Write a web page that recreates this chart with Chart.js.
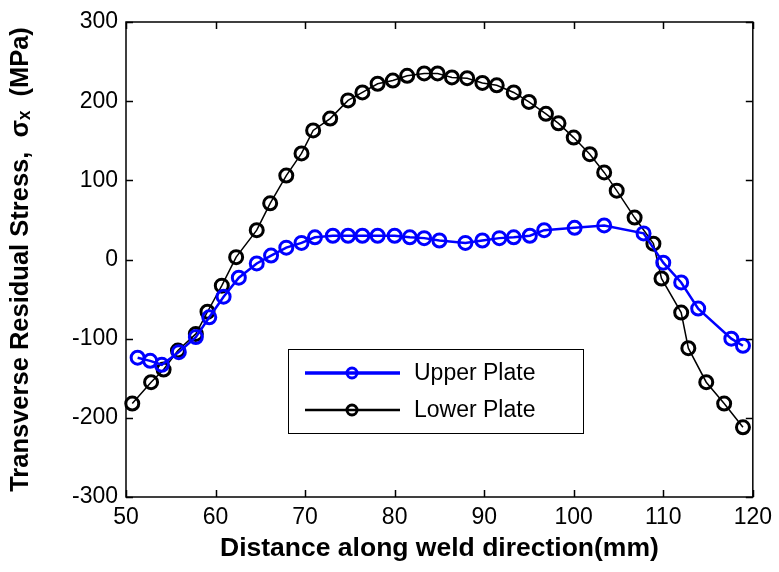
<!DOCTYPE html>
<html>
<head>
<meta charset="utf-8">
<script src="https://cdn.jsdelivr.net/npm/chart.js@4.4.1/dist/chart.umd.min.js"></script>
<style>
  html, body { margin: 0; padding: 0; background: #ffffff; }
  #wrap { width: 779px; height: 572px; }
</style>
</head>
<body>
<div id="wrap"><canvas id="c" width="779" height="572"></canvas></div>
<script>
// Transverse residual stress along the weld line, upper vs lower plate
const upperX = [51.3, 52.7, 54.0, 55.9, 57.8, 59.3, 60.9, 62.6, 64.6, 66.2, 67.9, 69.6, 71.1, 73.1, 74.8,
                76.4, 78.1, 80.0, 81.7, 83.3, 85.0, 87.9, 89.8, 91.7, 93.3, 95.1, 96.7, 100.1, 103.4,
                107.8, 110.0, 112.0, 113.9, 117.6, 118.9];
const upperY = [-124, -128, -133, -117, -98, -73, -47, -23, -5, 5, 15, 21, 28, 30, 30,
                30, 30, 30, 28, 27, 24, 21, 24, 27, 28, 30, 37, 40, 43,
                33, -4, -29, -62, -100, -109];

const lowerX = [50.7, 52.8, 54.2, 55.8, 57.8, 59.1, 60.7, 62.3, 64.6, 66.1, 67.9, 69.6, 70.9, 72.8,
                74.8, 76.4, 78.1, 79.8, 81.4, 83.3, 84.8, 86.4, 88.1, 89.8, 91.4, 93.3, 95.0, 96.9,
                98.3, 100.0, 101.8, 103.4, 104.8, 106.8, 108.9, 109.8, 112.0, 112.8, 114.8, 116.8, 118.9];
const lowerY = [-182, -155, -139, -115, -94, -66, -33, 3, 37, 71, 106, 134, 163, 178,
                201, 211, 222, 226, 232, 235, 235, 230, 229, 223, 220, 211, 199, 184,
                172, 154, 133, 110, 87, 53, 20, -24, -67, -112, -155, -182, -212];

const xTicks = [50, 60, 70, 80, 90, 100, 110, 120];
const yTicks = [-300, -200, -100, 0, 100, 200, 300];

const seriesNames = ['Upper Plate', 'Lower Plate'];
const FONT = '"Liberation Sans", Arial, Helvetica, sans-serif';

function pairs(xs, ys) { return xs.map((x, i) => ({ x: x, y: ys[i] })); }

// MATLAB-style box with inward ticks on all four sides
const boxTicks = {
  id: 'boxTicks',
  afterDraw(chart) {
    const { ctx, chartArea: a, scales } = chart;
    const len = 7;
    ctx.save();
    ctx.strokeStyle = '#000';
    ctx.lineWidth = 1.5;
    ctx.strokeRect(a.left, a.top, a.right - a.left, a.bottom - a.top);
    ctx.beginPath();
    xTicks.forEach(v => {
      const px = Math.round(scales.x.getPixelForValue(v)) + 0.5;
      ctx.moveTo(px, a.bottom); ctx.lineTo(px, a.bottom - len);
      ctx.moveTo(px, a.top); ctx.lineTo(px, a.top + len);
    });
    yTicks.forEach(v => {
      const py = Math.round(scales.y.getPixelForValue(v)) + 0.5;
      ctx.moveTo(a.left, py); ctx.lineTo(a.left + len, py);
      ctx.moveTo(a.right, py); ctx.lineTo(a.right - len, py);
    });
    ctx.stroke();
    ctx.restore();
  }
};

// Boxed legend placed inside the plot
const innerLegend = {
  id: 'innerLegend',
  afterDraw(chart) {
    const { ctx, chartArea: a } = chart;
    const bx = a.left + 162, by = a.top + 327, bw = 295, bh = 84;
    ctx.save();
    ctx.fillStyle = '#fff';
    ctx.fillRect(bx, by, bw, bh);
    ctx.strokeStyle = '#000';
    ctx.lineWidth = 1;
    ctx.strokeRect(bx + 0.5, by + 0.5, bw, bh);
    chart.data.datasets.forEach((ds, i) => {
      const y = by + 24 + i * 37;
      ctx.strokeStyle = ds.borderColor;
      ctx.lineWidth = ds.borderWidth + 0.8;
      ctx.beginPath();
      ctx.moveTo(bx + 17, y); ctx.lineTo(bx + 112, y);
      ctx.stroke();
      ctx.lineWidth = ds.pointBorderWidth;
      ctx.beginPath();
      ctx.arc(bx + 64, y, 5, 0, Math.PI * 2);
      ctx.stroke();
      ctx.fillStyle = '#000';
      ctx.font = '23px ' + FONT;
      ctx.textBaseline = 'middle';
      ctx.fillText(ds.label, bx + 126, y + 1);
    });
    ctx.restore();
  }
};

const chart = new Chart(document.getElementById('c'), {
  type: 'line',
  data: {
    datasets: [
      {
        label: seriesNames[0],
        data: pairs(upperX, upperY),
        borderColor: '#0000ff',
        borderWidth: 2.5,
        pointRadius: 6.5,
        pointBorderWidth: 3,
        pointBorderColor: '#0000ff',
        pointBackgroundColor: 'rgba(0,0,0,0)',
        tension: 0,
        clip: false
      },
      {
        label: seriesNames[1],
        data: pairs(lowerX, lowerY),
        borderColor: '#000000',
        borderWidth: 1.5,
        pointRadius: 6.5,
        pointBorderWidth: 3,
        pointBorderColor: '#000000',
        pointBackgroundColor: 'rgba(0,0,0,0)',
        tension: 0,
        clip: false
      }
    ]
  },
  options: {
    responsive: false,
    animation: false,
    layout: { padding: { left: 0, right: 23, top: 22, bottom: 0 } },
    plugins: { legend: { display: false }, tooltip: { enabled: false } },
    scales: {
      x: {
        type: 'linear',
        min: 50, max: 120,
        afterBuildTicks: s => { s.ticks = xTicks.map(v => ({ value: v })); },
        afterFit: s => { s.height = 75; },
        grid: { display: false, drawTicks: false },
        border: { display: false },
        ticks: { color: '#000', padding: 7, maxRotation: 0, font: { family: FONT, size: 23 } },
        title: {
          display: true,
          text: 'Distance along weld direction(mm)',
          color: '#000',
          padding: { top: 0, bottom: 7 },
          font: { family: FONT, size: 26.5, weight: 'bold' }
        }
      },
      y: {
        type: 'linear',
        min: -300, max: 300,
        afterBuildTicks: s => { s.ticks = yTicks.map(v => ({ value: v })); },
        afterFit: s => { s.width = 126; },
        grid: { display: false, drawTicks: false },
        border: { display: false },
        ticks: { color: '#000', padding: 8, font: { family: FONT, size: 23 } },
        title: {
          display: true,
          text: 'Transverse Residual Stress,  \u03c3\u2093  (MPa)',
          color: '#000',
          padding: { top: 6, bottom: 0 },
          font: { family: FONT, size: 25.5, weight: 'bold' }
        }
      }
    }
  },
  plugins: [boxTicks, innerLegend]
});
</script>
</body>
</html>
